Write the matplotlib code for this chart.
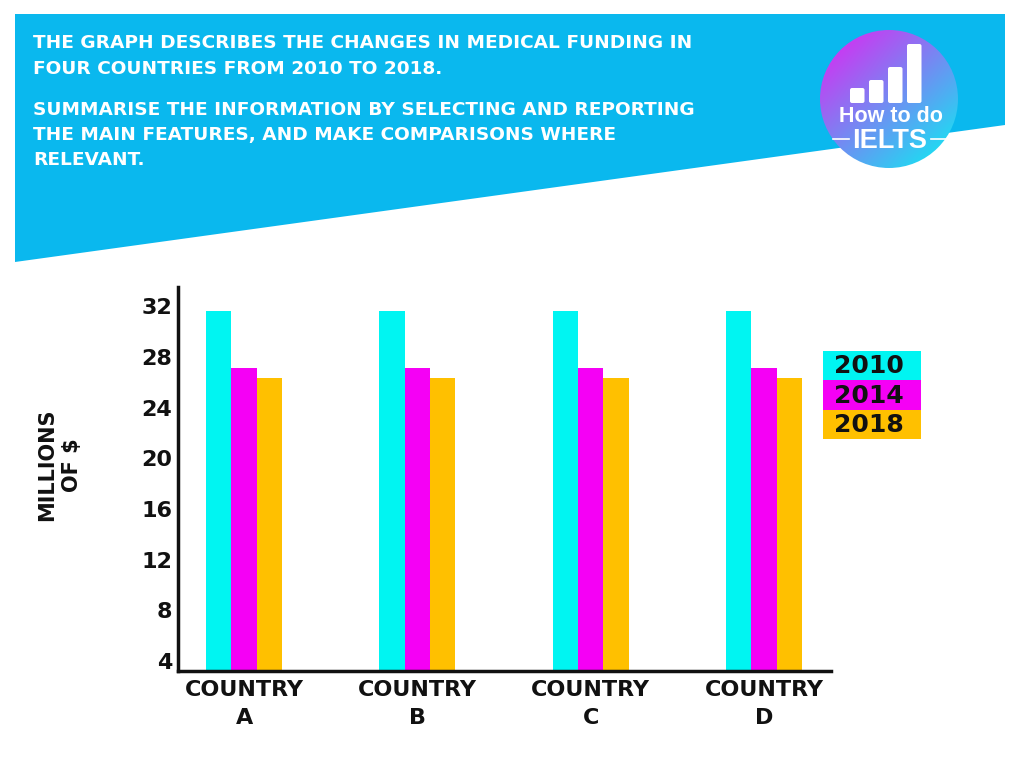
import numpy as np
import matplotlib
matplotlib.use("Agg")
import matplotlib.pyplot as plt
from matplotlib.patches import Polygon, Rectangle, Circle, FancyBboxPatch

countries = ["COUNTRY\nA", "COUNTRY\nB", "COUNTRY\nC", "COUNTRY\nD"]
years = ["2010", "2014", "2018"]
funding_2010 = [31.6, 31.6, 31.6, 31.6]
funding_2014 = [27.1, 27.1, 27.1, 27.1]
funding_2018 = [26.3, 26.3, 26.3, 26.3]
yticks = [4, 8, 12, 16, 20, 24, 28, 32]
colors = ["#00F5F2", "#F500F5", "#FFC000"]

header_lines = [
    "THE GRAPH DESCRIBES THE CHANGES IN MEDICAL FUNDING IN",
    "FOUR COUNTRIES FROM 2010 TO 2018.",
    "SUMMARISE THE INFORMATION BY SELECTING AND REPORTING",
    "THE MAIN FEATURES, AND MAKE COMPARISONS WHERE",
    "RELEVANT.",
]

W, H = 1024, 768
fig = plt.figure(figsize=(W / 100, H / 100), dpi=100)
fig.patch.set_facecolor("white")

# Background / decoration axes in pixel coordinates
bg = fig.add_axes([0, 0, 1, 1], zorder=0)
bg.axis("off")

banner = Polygon([[15, 14], [1005, 14], [1005, 125], [15, 262]], closed=True,
                 facecolor="#0AB8EE", edgecolor="none")
bg.add_patch(banner)

header_y = [43, 69, 110, 135, 160]
for txt, y in zip(header_lines, header_y):
    bg.text(33, y, txt, color="white", fontsize=13.3, fontweight="bold",
            family="DejaVu Sans", ha="left", va="center")

# Logo: gradient circle
cx, cy, r = 889, 99, 69
n = 200
gx, gy = np.meshgrid(np.linspace(0, 1, n), np.linspace(0, 1, n))
t = np.clip((gx * 0.8 + gy * 0.9) / 1.5, 0, 1)
c1 = np.array([0.90, 0.12, 0.95])
c2 = np.array([0.12, 0.86, 0.95])
img = c1[None, None, :] * (1 - t[..., None]) + c2[None, None, :] * t[..., None]
im = bg.imshow(img, extent=[cx - r, cx + r, cy + r, cy - r], zorder=2, interpolation="bilinear")
clip = Circle((cx, cy), r, transform=bg.transData)
im.set_clip_path(clip)
bg.set_aspect("auto")
bg.set_xlim(0, W)
bg.set_ylim(H, 0)

logo_bar_x = [850, 869, 888, 907]
logo_bar_top = [88, 80, 67, 44]
for bx, bt in zip(logo_bar_x, logo_bar_top):
    bg.add_patch(FancyBboxPatch((bx, bt), 14.5, 103 - bt, boxstyle="round,pad=0,rounding_size=2",
                                facecolor="white", edgecolor="none", zorder=3))
bg.text(891, 117, "How to do", color="white", fontsize=15.5, fontweight="bold", ha="center",
        va="center", family="Liberation Sans", zorder=3)
bg.text(890, 141, "IELTS", color="white", fontsize=19.5, fontweight="bold", ha="center",
        va="center", family="Liberation Sans", zorder=3)
bg.plot([833, 849], [139, 139], color="white", lw=1.2, zorder=3)
bg.plot([931, 947], [139, 139], color="white", lw=1.2, zorder=3)

# Legend boxes
leg_top = 350.5
leg_h = 29.5
for i, (yr, col) in enumerate(zip(years, colors)):
    y0 = leg_top + i * leg_h
    bg.add_patch(Rectangle((823, y0), 97.5, leg_h, facecolor=col, edgecolor="none", zorder=2))
    bg.text(869, y0 + leg_h / 2 + 1, yr, fontsize=18, fontweight="bold", color="#111111",
            ha="center", va="center", zorder=3)

# Main chart axes
ax = fig.add_axes([178 / W, 1 - 670.7 / H, (831 - 178) / W, (670.7 - 287) / H], zorder=1)
ax.patch.set_alpha(0)
x = np.arange(len(countries))
bw = 0.146
series = [funding_2010, funding_2014, funding_2018]
for i, (vals, col) in enumerate(zip(series, colors)):
    ax.bar(x + (i - 1) * bw, vals, width=bw, color=col, edgecolor="none")

ax.set_xlim(-0.381, 3.387)
ax.set_ylim(3.25, 33.5)
ax.set_yticks(yticks)
ax.set_yticklabels([str(v) for v in yticks], fontsize=16, fontweight="bold")
ax.set_xticks(x)
ax.set_xticklabels(countries, fontsize=16, fontweight="bold", linespacing=1.5)
ax.tick_params(axis="both", length=0, colors="#111111")
ax.tick_params(axis="y", pad=4)
ax.tick_params(axis="x", pad=6.5)
for s in ["top", "right"]:
    ax.spines[s].set_visible(False)
for s in ["left", "bottom"]:
    ax.spines[s].set_linewidth(2.5)
    ax.spines[s].set_color("#111111")

fig.text(60 / W, 1 - 465 / H, "MILLIONS\nOF $", rotation=90, fontsize=15, fontweight="bold",
         ha="center", va="center", linespacing=1.3, color="#111111")

fig.savefig("out.png", dpi=100, facecolor="white")
